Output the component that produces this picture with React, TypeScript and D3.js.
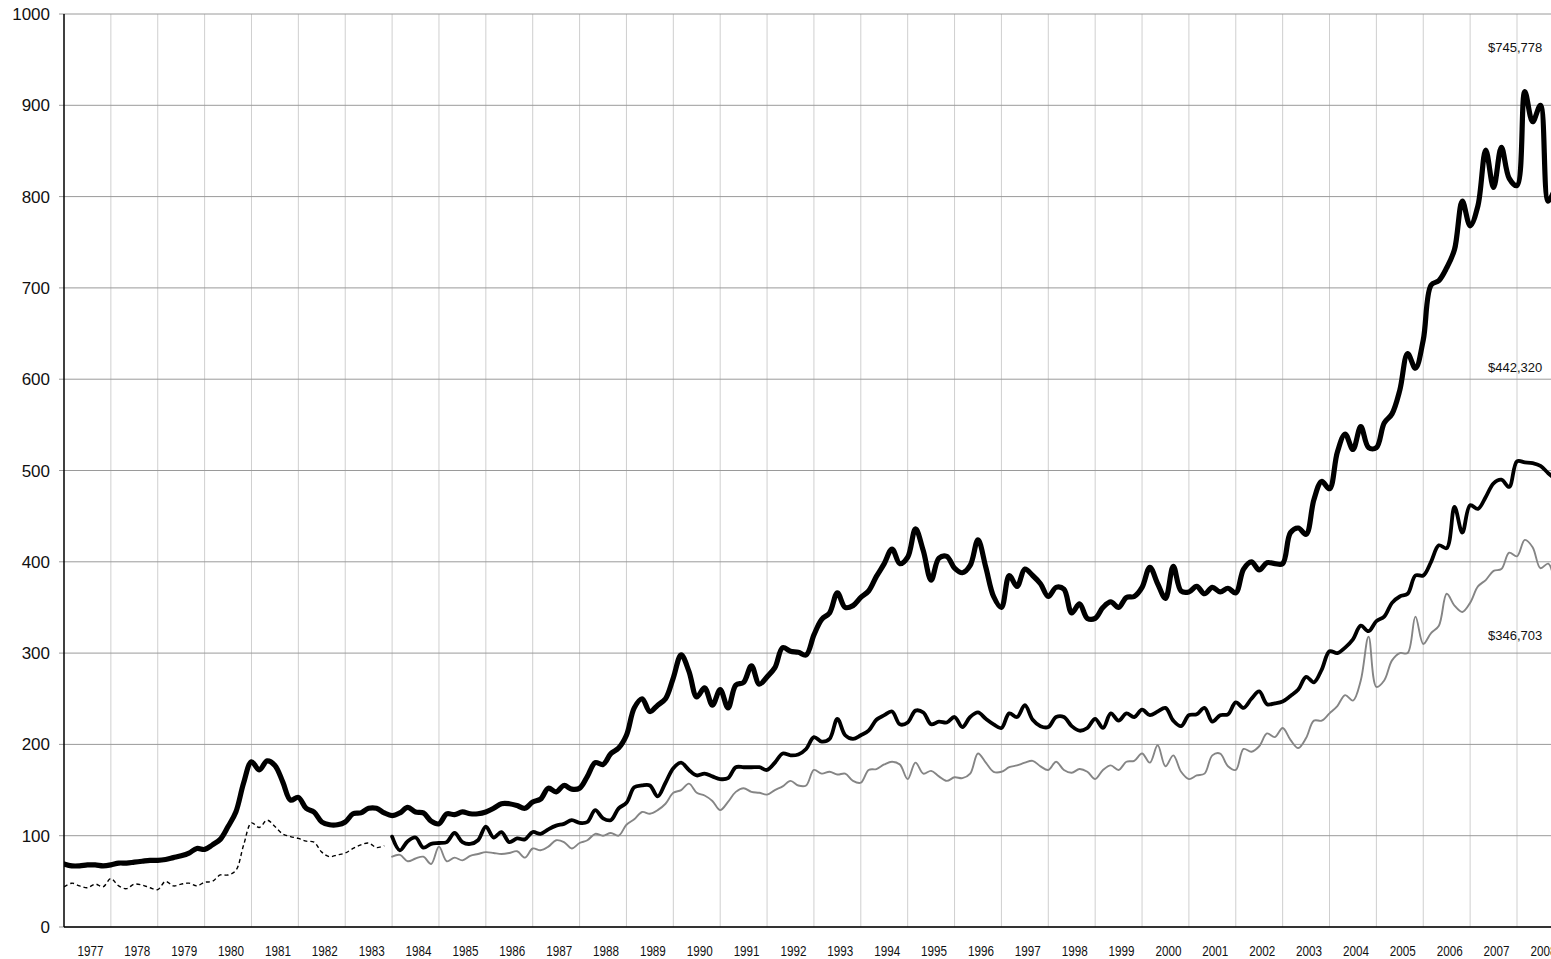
import React from 'react';
import * as d3 from 'd3';

// ---------- data ----------
const YEAR_LABELS = [
  '1977', '1978', '1979', '1980', '1981', '1982', '1983', '1984', '1985', '1986', '1987',
  '1988', '1989', '1990', '1991', '1992', '1993', '1994', '1995', '1996', '1997', '1998',
  '1999', '2000', '2001', '2002', '2003', '2004', '2005', '2006', '2007', '2008',
];
const Y_TICKS = [0, 100, 200, 300, 400, 500, 600, 700, 800, 900, 1000];
const PERIODS_PER_YEAR = 6; // bi-monthly readings

// thick black line, 1977 -> 2008
const THICK_START = 1977;
const thickSeries = [
  69, 67, 67, 68, 68, 67,
  68, 70, 70, 71, 72, 73,
  73, 74, 76, 78, 81, 86,
  85, 90, 96, 110, 126, 158,
  181, 172, 182, 177, 159, 139,
  142, 130, 126, 115, 112, 112,
  115, 124, 125, 130, 130, 125,
  122, 125, 131, 126, 125, 116,
  113, 124, 123, 126, 124, 124,
  126, 130, 135, 135, 133, 130,
  137, 140, 152, 148, 155, 151,
  152, 165, 180, 178, 190, 196,
  210, 240, 250, 236, 243, 250,
  273, 298, 280, 252, 262, 243,
  260, 240, 265, 268, 286, 266,
  274, 284, 306, 302, 301, 298,
  320, 337, 344, 366, 350, 352,
  361, 368, 384, 398, 414, 398,
  405, 436, 412, 380, 404, 406,
  393, 388, 396, 424, 394, 362,
  350, 385, 373, 392, 385, 376,
  362, 372, 370, 344, 354, 338,
  338, 350, 356, 350, 361, 362,
  372, 394, 376, 360, 395, 368,
  367, 373, 365, 372, 367, 371,
  366, 392, 400, 391, 399, 398,
  398, 432, 437, 430, 468, 488,
  480, 520, 540, 523, 548, 525,
  525, 552, 562, 588, 628, 612,
  643, 703, 708, 722, 742, 795,
  768, 790, 851, 810, 854, 820,
  812, 915, 882, 900, 795, 812,
];

// thin dashed line, 1977 -> 1983
const DASHED_START = 1977;
const dashedSeries = [
  44, 48, 45, 43, 47, 44,
  53, 45, 42, 47, 46, 43,
  41, 50, 45, 47, 48, 45,
  49, 50, 57, 57, 62, 90,
  114, 109, 117, 110, 102, 99,
  97, 94, 93, 82, 77, 79,
  81, 86, 90, 92, 87, 89,
];

// medium black line, 1984 -> 2008
const MEDIUM_START = 1984;
const mediumSeries = [
  99, 84, 94, 98, 87, 91,
  92, 93, 103, 93, 91, 95,
  110, 98, 104, 93, 97, 96,
  104, 102, 107, 111, 113, 117,
  114, 115, 128, 119, 117, 130,
  136, 153, 155, 155, 143, 158,
  174, 180, 172, 166, 168, 165,
  162, 163, 175, 175, 175, 175,
  172, 180, 190, 188, 189, 195,
  208, 203, 206, 228, 210, 206,
  210, 215, 227, 232, 236, 222,
  224, 237, 235, 222, 225, 224,
  230, 219, 230, 235, 228, 222,
  218, 234, 230, 243, 227, 220,
  219, 230, 230, 220, 215, 218,
  228, 218, 234, 226, 234, 230,
  238, 232, 236, 240, 226, 220,
  232, 233, 240, 225, 232, 233,
  246, 240, 250, 258, 244, 245,
  247, 253, 260, 274, 268, 282,
  302, 300, 306, 315, 330, 324,
  335, 340, 355, 362, 365, 385,
  385, 400, 418, 415, 460, 432,
  462, 458, 471, 486, 490, 482,
  510, 509, 508, 505, 497, 490,
];

// thin gray line, 1984 -> 2008
const GRAY_START = 1984;
const graySeries = [
  77, 79, 72, 75, 77, 69,
  88, 72, 76, 73, 78, 80,
  82, 81, 80, 81, 83, 76,
  86, 84, 88, 95, 93, 86,
  92, 95, 102, 100, 103, 100,
  112, 118, 126, 124, 128, 135,
  147, 150, 157, 147, 144, 138,
  128, 137, 148, 152, 148, 147,
  145, 150, 154, 160, 155, 155,
  172, 168, 170, 167, 168, 160,
  158, 172, 173, 178, 181, 178,
  162, 180, 168, 171, 165, 160,
  164, 163, 168, 190, 180, 170,
  170, 175, 177, 180, 182, 176,
  172, 181, 172, 169, 173, 170,
  162, 172, 177, 172, 181, 182,
  190, 180, 199, 176, 188, 170,
  162, 166, 168, 188, 190, 176,
  172, 195, 192, 198, 212, 208,
  218, 205, 196, 207, 226, 226,
  234, 242, 254, 248, 270, 318,
  263, 270, 292, 300, 300, 340,
  310, 322, 330, 365, 352, 345,
  355, 373, 380, 390, 392, 410,
  406, 424, 416, 393, 398, 370,
];

const ANNOTATIONS = ['$745,778', '$442,320', '$346,703'];

// ---------- layout ----------
const W = 1551;
const H = 959;
const LEFT = 64;
const TOP = 14;
const BOTTOM = 927;

export default function App() {
  const firstYear = +YEAR_LABELS[0];
  const lastYear = +YEAR_LABELS[YEAR_LABELS.length - 1];
  const x = d3.scaleLinear().domain([firstYear, lastYear]).range([LEFT, 1517]);
  const y = d3.scaleLinear().domain([0, 1000]).range([BOTTOM, TOP]);

  const mk = (start: number) =>
    d3
      .line<number>()
      .x((_, i) => x(start + i / PERIODS_PER_YEAR))
      .y((d) => y(d))
      .curve(d3.curveCatmullRom.alpha(0.5));

  const yearLines = d3.range(firstYear + 1, lastYear + 2);
  const annotationY = [52, 371.5, 640];

  return (
    <svg
      width={W}
      height={H}
      style={{ position: 'absolute', left: 0, top: 0, background: '#fff' }}
    >
      <defs>
        <clipPath id="plot">
          <rect x={LEFT} y={0} width={W - LEFT} height={BOTTOM} />
        </clipPath>
      </defs>
      <rect x={0} y={0} width={W} height={H} fill="#fff" />

      {/* vertical grid */}
      {yearLines.map((yr) => (
        <line
          key={'v' + yr}
          x1={x(yr)}
          x2={x(yr)}
          y1={TOP}
          y2={BOTTOM}
          stroke="#cfcfcf"
          strokeWidth={1}
        />
      ))}

      {/* horizontal grid */}
      {Y_TICKS.map((t) => (
        <line
          key={'h' + t}
          x1={LEFT - 5}
          x2={W}
          y1={y(t)}
          y2={y(t)}
          stroke="#9a9a9a"
          strokeWidth={1}
        />
      ))}

      {/* y labels */}
      {Y_TICKS.map((t) => (
        <text
          key={'yl' + t}
          x={50}
          y={y(t) + 6}
          textAnchor="end"
          fontFamily="'Liberation Sans', Arial, sans-serif"
          fontSize={17}
          fill="#111"
        >
          {t}
        </text>
      ))}

      {/* x labels */}
      {YEAR_LABELS.map((lab) => (
        <text
          key={'xl' + lab}
          x={x(+lab + 0.5) + 3 - 13}
          y={956}
          fontFamily="'Liberation Sans', Arial, sans-serif"
          fontSize={14.5}
          textLength={26}
          lengthAdjust="spacingAndGlyphs"
          fill="#111"
        >
          {lab}
        </text>
      ))}

      {/* series */}
      <g clipPath="url(#plot)" fill="none" strokeLinejoin="round" strokeLinecap="round">
        <path d={mk(GRAY_START)(graySeries) || ''} stroke="#858585" strokeWidth={1.9} />
        <path
          d={mk(DASHED_START)(dashedSeries) || ''}
          stroke="#000"
          strokeWidth={1.4}
          strokeDasharray="4 3"
          strokeLinecap="butt"
        />
        <path d={mk(MEDIUM_START)(mediumSeries) || ''} stroke="#000" strokeWidth={3.8} />
        <path d={mk(THICK_START)(thickSeries) || ''} stroke="#000" strokeWidth={5.2} />
      </g>

      {/* axes */}
      <line x1={LEFT} x2={LEFT} y1={TOP} y2={BOTTOM} stroke="#000" strokeWidth={1.5} />
      <line x1={LEFT} x2={W} y1={BOTTOM} y2={BOTTOM} stroke="#000" strokeWidth={1.5} />

      {/* annotations */}
      {ANNOTATIONS.map((a, i) => (
        <text
          key={a}
          x={1488}
          y={annotationY[i]}
          fontFamily="'Liberation Sans', Arial, sans-serif"
          fontSize={13}
          fill="#111"
        >
          {a}
        </text>
      ))}
    </svg>
  );
}
